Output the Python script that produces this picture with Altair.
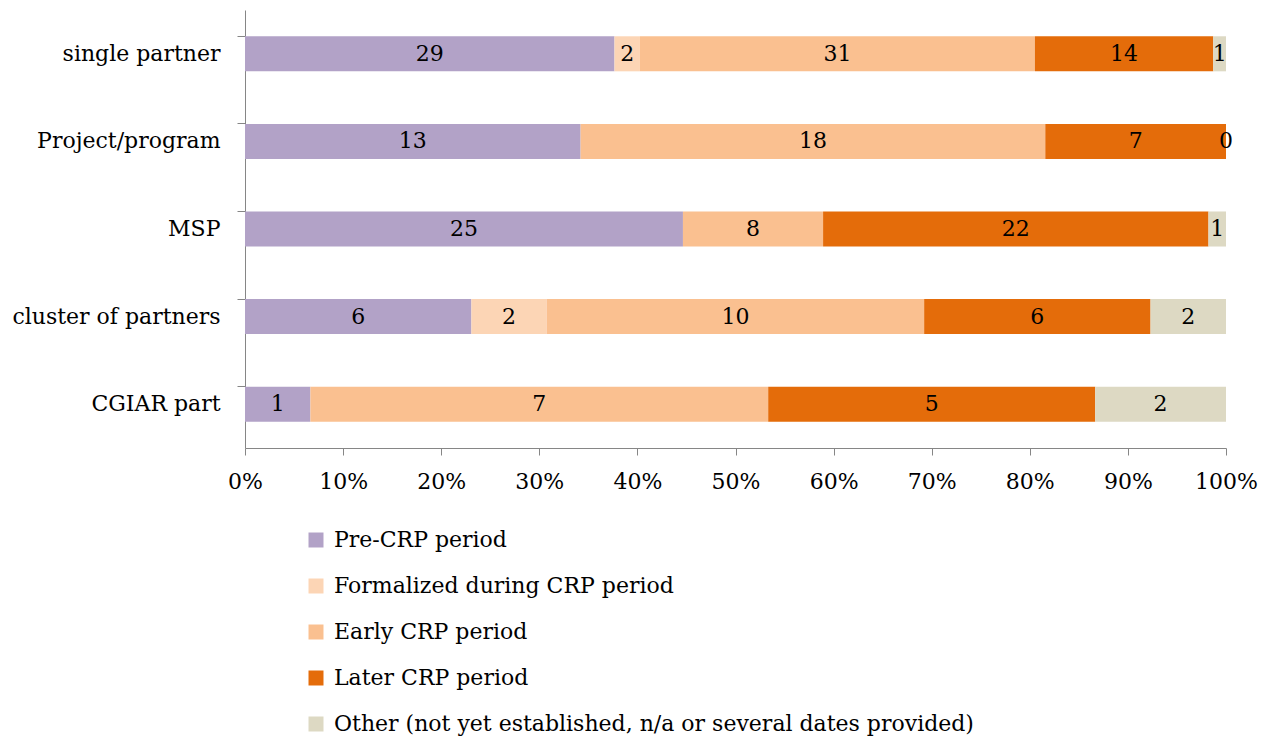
import altair as alt
import pandas as pd

categories = ["single partner", "Project/program", "MSP", "cluster of partners", "CGIAR part"]
series = [
    "Pre-CRP period",
    "Formalized during CRP period",
    "Early CRP period",
    "Later CRP period",
    "Other (not yet established, n/a or several dates provided)",
]
pre_crp = [29, 13, 25, 6, 1]
formalized = [2, None, None, 2, None]
early_crp = [31, 18, 8, 10, 7]
later_crp = [14, 7, 22, 6, 5]
other = [1, 0, 1, 2, 2]
colors = ["#B2A2C7", "#FCD5B5", "#FAC090", "#E46C0A", "#DDD9C3"]

rows = []
for si, (name, vals) in enumerate(zip(series, [pre_crp, formalized, early_crp, later_crp, other])):
    for cat, v in zip(categories, vals):
        if v is not None:
            rows.append({"category": cat, "series": name, "order": si, "value": v})
df = pd.DataFrame(rows)

FONT = "DejaVu Serif"
FS = 22

y_enc = alt.Y(
    "category:N",
    sort=categories,
    title=None,
    scale=alt.Scale(paddingInner=0.6, paddingOuter=0.3),
    axis=alt.Axis(
        bandPosition=0,
        tickSize=8,
        labelPadding=17,
        labelFont=FONT,
        labelFontSize=FS,
        labelColor="black",
        labelLimit=400,
        domainColor="#868686",
        tickColor="#868686",
        grid=False,
    ),
)

x_scale = alt.Scale(domain=[0, 1], nice=False, zero=True)

bars = alt.Chart(df).mark_bar().encode(
    y=y_enc,
    x=alt.X(
        "value:Q",
        stack="normalize",
        scale=x_scale,
        title=None,
        axis=alt.Axis(
            format="%",
            values=[i / 10 for i in range(11)],
            tickSize=7,
            labelPadding=16,
            labelFlush=False,
            labelFont=FONT,
            labelFontSize=FS,
            labelColor="black",
            domainColor="#868686",
            tickColor="#868686",
            grid=False,
        ),
    ),
    color=alt.Color(
        "series:N",
        sort=series,
        scale=alt.Scale(domain=series, range=colors),
        title=None,
        legend=alt.Legend(
            orient="none",
            legendX=60,
            legendY=519,
            direction="vertical",
            symbolType="square",
            symbolSize=225,
            symbolStrokeWidth=0,
            labelFont=FONT,
            labelFontSize=FS,
            labelColor="black",
            labelOffset=7,
            rowPadding=24,
            labelLimit=900,
            padding=0,
        ),
    ),
    order=alt.Order("order:Q", sort="ascending"),
)

labels = (
    alt.Chart(df)
    .transform_joinaggregate(total="sum(value)", groupby=["category"])
    .transform_window(
        cum="sum(value)", groupby=["category"], sort=[alt.SortField("order")], frame=[None, 0]
    )
    .transform_calculate(mid="(datum.cum - datum.value / 2) / datum.total")
    .mark_text(font=FONT, fontSize=FS, color="black", baseline="middle", align="center")
    .encode(
        y=alt.Y("category:N", sort=categories),
        x=alt.X("mid:Q", scale=x_scale),
        text=alt.Text("value:Q"),
    )
)

chart = (
    alt.layer(bars, labels)
    .properties(
        width=981,
        height=438,
        autosize=alt.AutoSizeParams(type="none"),
        padding={"left": 237, "top": 2, "right": 40, "bottom": 290},
    )
    .configure_view(stroke=None)
)

chart.save("out.html", embed_options={"renderer": "svg", "actions": False})
